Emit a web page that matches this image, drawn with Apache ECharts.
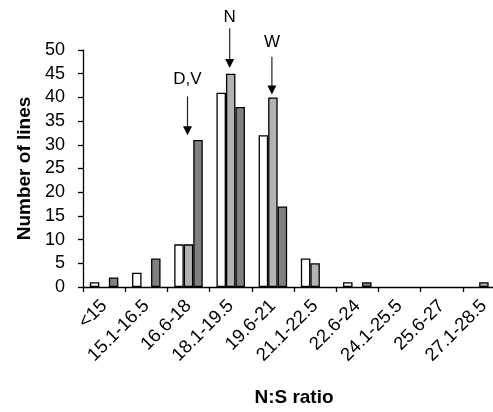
<!DOCTYPE html>
<html><head><meta charset="utf-8">
<script src="https://cdn.jsdelivr.net/npm/echarts@6/dist/echarts.min.js"></script>
<style>html,body{margin:0;padding:0;background:#fff}#c{width:493px;height:412px}</style>
</head><body><div id="c"></div>
<script>
const categories = ['<15','15.1-16.5','16.6-18','18.1-19.5','19.6-21','21.1-22.5','22.6-24','24.1-25.5','25.6-27','27.1-28.5'];
const seriesWhite = [1,3,9,41,32,6,1,0,0,0];
const seriesGray  = [0,0,9,45,40,5,0,0,0,1];
const seriesDark  = [2,6,31,38,17,0,1,0,0,0];
const yMin = 0, yMax = 50, yStep = 5;
const annotLabels = ['D,V','N','W'];
const annotCats   = ['16.6-18','18.1-19.5','19.6-21'];
const annotTip    = [32.0, 46.2, 40.6];
const annotTail   = [40.2, 54.6, 48.6];
const annotText   = [43.8, 56.9, 51.6];

const FONT = '"Liberation Sans", Arial, sans-serif';
const chart = echarts.init(document.getElementById('c'), null, {renderer:'canvas'});
const barStyle = (c) => ({color:c, borderColor:'#000', borderWidth:1.3});
// zero counts draw no visible bar
const toBars = (arr) => arr.map(v => v === 0 ? null : v);
chart.setOption({
  animation:false,
  backgroundColor:'#fff',
  grid:{left:83, right:-12, top:50, bottom:125, containLabel:false, outerBoundsMode:'none'},
  xAxis:{
    type:'category', data:categories,
    axisLine:{lineStyle:{color:'#000', width:1.3}},
    axisTick:{show:true, length:5, lineStyle:{color:'#000', width:1.3}},
    axisLabel:{rotate:45, fontSize:18.5, color:'#000', fontFamily:FONT, margin:16, interval:0},
    name:'N:S ratio', nameLocation:'middle', nameGap:101,
    nameTextStyle:{fontSize:19, fontWeight:'bold', color:'#000', fontFamily:FONT}
  },
  yAxis:{
    type:'value', min:yMin, max:yMax, interval:yStep,
    axisLine:{show:true, lineStyle:{color:'#000', width:1.3}},
    axisTick:{show:true, length:5, lineStyle:{color:'#000', width:1.3}},
    splitLine:{show:false},
    axisLabel:{fontSize:18, color:'#000', fontFamily:FONT, margin:18},
    name:'Number of lines', nameLocation:'middle', nameGap:47,
    nameTextStyle:{fontSize:19, fontWeight:'bold', color:'#000', fontFamily:FONT}
  },
  series:[
    {type:'bar', data:toBars(seriesWhite), barWidth:9.5, barGap:'0%', itemStyle:barStyle('#ffffff')},
    {type:'bar', data:toBars(seriesGray), barWidth:9.5, barGap:'0%', itemStyle:barStyle('#b3b3b3')},
    {type:'bar', data:toBars(seriesDark), barWidth:9.5, barGap:'0%', itemStyle:barStyle('#808080')}
  ]
});

const graphics = [];
annotLabels.forEach((lab, i) => {
  const tip = chart.convertToPixel({xAxisIndex:0, yAxisIndex:0}, [annotCats[i], annotTip[i]]);
  const tail = chart.convertToPixel({xAxisIndex:0, yAxisIndex:0}, [annotCats[i], annotTail[i]]);
  const txt = chart.convertToPixel({xAxisIndex:0, yAxisIndex:0}, [annotCats[i], annotText[i]]);
  const x = tip[0] - 1;
  graphics.push({type:'line', shape:{x1:x, y1:tail[1], x2:x, y2:tip[1]-8}, style:{stroke:'#222', lineWidth:1.2}});
  graphics.push({type:'polygon', shape:{points:[[x-4.5, tip[1]-9],[x+4.5, tip[1]-9],[x, tip[1]]]}, style:{fill:'#000'}});
  graphics.push({type:'text', x:x, y:txt[1], style:{text:lab, fontSize:17, fontFamily:FONT, fill:'#000', align:'center', verticalAlign:'middle'}});
});
chart.setOption({graphic:graphics});
</script></body></html>
